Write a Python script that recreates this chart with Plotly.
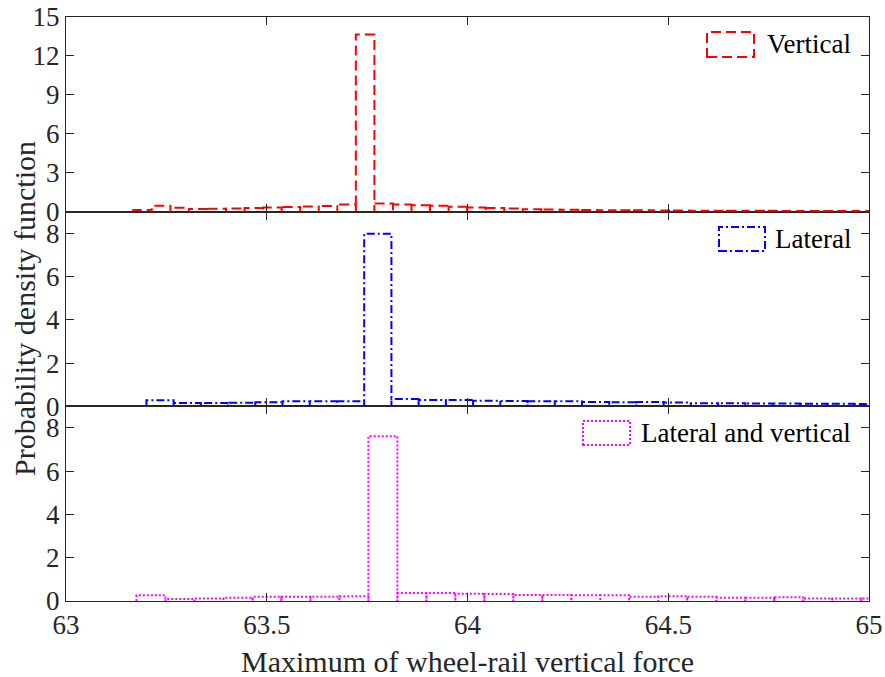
import plotly.graph_objects as go

# ---------------- data ----------------
# Vertical (top panel): histogram, bin start / width and densities
vert_start = 63.1675
vert_width = 0.0462
vert_density = [0.12, 0.45, 0.30, 0.20, 0.22, 0.25, 0.28, 0.33, 0.36, 0.40,
                0.44, 0.55, 13.65, 0.62, 0.55, 0.50, 0.45, 0.38, 0.33, 0.28,
                0.24, 0.19, 0.16, 0.14, 0.13, 0.11, 0.10, 0.10, 0.09, 0.09,
                0.08, 0.08, 0.08, 0.07, 0.07, 0.06, 0.06, 0.06, 0.05, 0.05]

# Lateral (middle panel)
lat_start = 63.2003
lat_width = 0.0678
lat_density = [0.28, 0.155, 0.155, 0.17, 0.19, 0.23, 0.23, 0.23, 7.98, 0.34,
               0.29, 0.29, 0.26, 0.25, 0.23, 0.23, 0.20, 0.19, 0.20, 0.18,
               0.14, 0.14, 0.13, 0.13, 0.12, 0.12, 0.11]

# Lateral and vertical (bottom panel)
lv_start = 63.1755
lv_width = 0.0722
lv_density = [0.26, 0.09, 0.11, 0.15, 0.20, 0.20, 0.20, 0.22, 7.62, 0.37,
              0.37, 0.33, 0.32, 0.28, 0.28, 0.26, 0.26, 0.20, 0.22, 0.20,
              0.15, 0.15, 0.17, 0.12, 0.11, 0.11]

x_ticks = [63, 63.5, 64, 64.5, 65]
x_ticklabels = ["63", "63.5", "64", "64.5", "65"]
top_yticks = [0, 3, 6, 9, 12, 15]
mid_yticks = [0, 2, 4, 6, 8]
bot_yticks = [0, 2, 4, 6, 8]
series_names = ["Vertical", "Lateral", "Lateral and vertical"]
x_title = "Maximum of wheel-rail vertical force"
y_title = "Probability density function"

# ---------------- helpers ----------------
def outline(start, width, dens):
    xs, ys = [], []
    for i, h in enumerate(dens):
        l = start + i * width
        r = l + width
        xs += [l, l, r, r]
        ys += [0, h, h, 0]
    return xs, ys

W, H = 885, 677
ML, MR, MT, MB = 66, 16, 17, 76
PW, PH = W - ML - MR, H - MT - MB

def px(xp):
    return (xp - ML) / PW

def py(yp):
    return (H - MB - yp) / PH

FONT = "Liberation Serif"
AX = "#262626"
RED, BLUE, MAG = "#ff0000", "#0000ff", "#ff00ff"
DASH_R = "10px,5px"
DASH_B = "8px,3px,2px,3px"
DASH_M = "2px,2px"

fig = go.Figure()
xv, yv = outline(vert_start, vert_width, vert_density)
fig.add_trace(go.Scatter(x=xv, y=yv, mode="lines", name=series_names[0],
                         line=dict(color=RED, width=2, dash=DASH_R),
                         xaxis="x3", yaxis="y3", showlegend=False))
xl, yl = outline(lat_start, lat_width, lat_density)
fig.add_trace(go.Scatter(x=xl, y=yl, mode="lines", name=series_names[1],
                         line=dict(color=BLUE, width=2, dash=DASH_B),
                         xaxis="x2", yaxis="y2", showlegend=False))
xb, yb = outline(lv_start, lv_width, lv_density)
fig.add_trace(go.Scatter(x=xb, y=yb, mode="lines", name=series_names[2],
                         line=dict(color=MAG, width=2, dash=DASH_M),
                         xaxis="x", yaxis="y", showlegend=False))

common_x = dict(range=[63, 65], tickvals=x_ticks, ticktext=x_ticklabels,
                ticks="inside", ticklen=8, tickcolor=AX, showline=True,
                linecolor=AX, linewidth=1, mirror="ticks", showgrid=False,
                zeroline=False, automargin=False,
                tickfont=dict(family=FONT, size=27, color=AX))
common_y = dict(ticks="inside", ticklen=8, tickcolor=AX, showline=True,
                linecolor=AX, linewidth=1, mirror="ticks", showgrid=False,
                zeroline=False, automargin=False,
                tickfont=dict(family=FONT, size=27, color=AX))

fig.update_layout(
    width=W, height=H, margin=dict(l=ML, r=MR, t=MT, b=MB, autoexpand=False),
    plot_bgcolor="white", paper_bgcolor="white", showlegend=False,
    xaxis=dict(common_x, anchor="y", domain=[0, 1]),
    yaxis=dict(common_y, anchor="x", domain=[0, 1/3], range=[0, 9], tickvals=bot_yticks),
    xaxis2=dict(common_x, anchor="y2", domain=[0, 1], showticklabels=False),
    yaxis2=dict(common_y, anchor="x2", domain=[1/3, 2/3], range=[0, 9], tickvals=mid_yticks),
    xaxis3=dict(common_x, anchor="y3", domain=[0, 1], showticklabels=False),
    yaxis3=dict(common_y, anchor="x3", domain=[2/3, 1], range=[0, 15], tickvals=top_yticks),
)

# axis titles
fig.add_annotation(text=x_title, xref="paper", yref="paper", x=0.5, y=py(661),
                   showarrow=False, xanchor="center", yanchor="middle",
                   font=dict(family=FONT, size=30, color=AX))
fig.add_annotation(text=y_title, xref="paper", yref="paper", x=px(24), y=py(309),
                   showarrow=False, xanchor="center", yanchor="middle", textangle=-90,
                   font=dict(family=FONT, size=30, color=AX))

# legends (box symbol + label) per panel
legs = [
    (series_names[0], RED, DASH_R, (707, 754, 32, 57), 44),
    (series_names[1], BLUE, DASH_B, (719, 765, 227, 251), 239),
    (series_names[2], MAG, DASH_M, (583, 630, 421, 445), 433),
]
for name, col, dash, (x0, x1, y0, y1), yc in legs:
    fig.add_shape(type="rect", xref="paper", yref="paper",
                  x0=px(x0), x1=px(x1), y0=py(y1), y1=py(y0),
                  line=dict(color=col, width=2, dash=dash), fillcolor="rgba(0,0,0,0)")
    fig.add_annotation(text=name, xref="paper", yref="paper", x=px(853), y=py(yc),
                       showarrow=False, xanchor="right", yanchor="middle",
                       font=dict(family=FONT, size=27, color="black"))

fig.write_html("out.html")
